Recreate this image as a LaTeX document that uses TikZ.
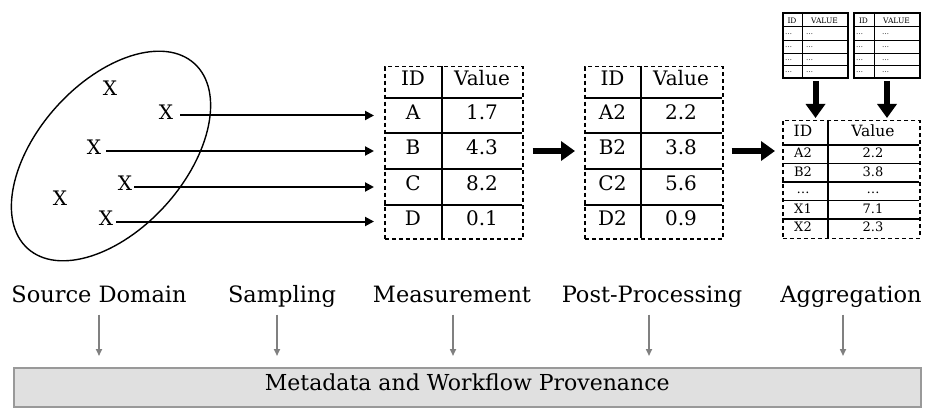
\documentclass[tikz,border=0pt]{standalone}
\usepackage{fontspec}
\setmainfont{DejaVu Serif}
\usetikzlibrary{arrows.meta,shapes.geometric}
\begin{document}
\begin{tikzpicture}[x=1pt,y=-1pt,
  cell/.style={inner sep=0pt,text height=0.73em,text depth=0pt,font=\fontsize{20}{24}\selectfont},
  cellsm/.style={cell,font=\fontsize{15.5}{18}\selectfont},
  cellxs/.style={cell,font=\fontsize{13}{15}\selectfont},
  cellmini/.style={cell,font=\fontsize{7.5}{9}\selectfont},
  dotmini/.style={inner sep=0pt,anchor=west,font=\fontsize{7}{8}\selectfont},
  tbl/.style={draw,dash pattern=on 4pt off 3pt,line width=1.5pt,inner sep=0pt,anchor=north west},
  minitbl/.style={draw,line width=2pt,inner sep=0pt,anchor=north west},
  gridline/.style={line width=1.5pt},
  minigrid/.style={line width=1pt},
  xmark/.style={inner sep=1pt,text height=0.73em,text depth=0pt,font=\fontsize{20}{24}\selectfont},
  thinarrow/.style={line width=2pt,-{Triangle[length=9pt,width=9pt]}},
  thickarrow/.style={line width=6pt,-{Triangle[length=14pt,width=19pt]}},
  grayarrow/.style={draw=black!50,line width=1.6pt,-{Triangle[length=7pt,width=6pt]}},
  stage/.style={inner sep=0pt,anchor=base,text depth=0.24em,font=\fontsize{22.5}{26}\selectfont},
]
\useasboundingbox (0,0) rectangle (934,409);

% ---- Source domain ----
\node[ellipse,draw,line width=1.4pt,minimum width=249pt,minimum height=147pt,rotate=48] (dom) at (111,156) {};
\node[xmark] (x1) at (110,92) {X};
\node[xmark] (x2) at (166,115.5) {X};
\node[xmark] (x3) at (94,151) {X};
\node[xmark] (x4) at (125,187) {X};
\node[xmark] (x5) at (60,202) {X};
\node[xmark] (x6) at (106,221.5) {X};

% ---- Table 1 ----
\node[tbl,minimum width=138pt,minimum height=172pt] (t1) at (384,66) {};
\foreach \yy in {98,133,169,205} \draw[gridline] (384,\yy) -- (522,\yy);
\draw[gridline] (442,66) -- (442,238);
\node[cell] (t1h1) at (413,82) {ID};
\node[cell] (t1h2) at (482,82) {Value};
\node[cell] (t1a) at (413,115.5) {A};
\node[cell] (t1av) at (482,115.5) {1.7};
\node[cell] (t1b) at (413,151) {B};
\node[cell] (t1bv) at (482,151) {4.3};
\node[cell] (t1c) at (413,187) {C};
\node[cell] (t1cv) at (482,187) {8.2};
\node[cell] (t1d) at (413,221.5) {D};
\node[cell] (t1dv) at (482,221.5) {0.1};

% sampling arrows
\draw[thinarrow,shorten <=6pt,shorten >=10pt] (x2.east) -- (x2.east -| t1.west);
\draw[thinarrow,shorten <=4pt,shorten >=10pt] (x3.east) -- (x3.east -| t1.west);
\draw[thinarrow,shorten <=1pt,shorten >=10pt] (x4.east) -- (x4.east -| t1.west);
\draw[thinarrow,shorten <=2pt,shorten >=10pt] (x6.east) -- (x6.east -| t1.west);

% ---- Table 2 ----
\node[tbl,minimum width=138pt,minimum height=172pt] (t2) at (584,66) {};
\foreach \yy in {98,133,169,205} \draw[gridline] (584,\yy) -- (722,\yy);
\draw[gridline] (641,66) -- (641,238);
\node[cell] (t2h1) at (612.5,82) {ID};
\node[cell] (t2h2) at (681,82) {Value};
\node[cell] (t2a) at (612.5,115.5) {A2};
\node[cell] (t2av) at (681,115.5) {2.2};
\node[cell] (t2b) at (612.5,151) {B2};
\node[cell] (t2bv) at (681,151) {3.8};
\node[cell] (t2c) at (612.5,187) {C2};
\node[cell] (t2cv) at (681,187) {5.6};
\node[cell] (t2d) at (612.5,221.5) {D2};
\node[cell] (t2dv) at (681,221.5) {0.9};

\draw[thickarrow,shorten <=9pt,shorten >=9pt] (t1.east |- t1b) -- (t2.west |- t1b);

% ---- Table 3 (aggregated) ----
\node[tbl,minimum width=137pt,minimum height=117.5pt] (t3) at (782,120) {};
\foreach \yy in {145,163.5,182,200.5,219} \draw[gridline] (782,\yy) -- (919,\yy);
\draw[gridline] (828,120) -- (828,237.5);
\node[cellsm] (t3h1) at (803,132.5) {ID};
\node[cellsm] (t3h2) at (873,132.5) {Value};
\node[cellxs] (t3a) at (803,154.25) {A2};
\node[cellxs] (t3av) at (873,154.25) {2.2};
\node[cellxs] (t3b) at (803,172.75) {B2};
\node[cellxs] (t3bv) at (873,172.75) {3.8};
\node[cellxs,text height=0.45em] (t3c) at (803,191.25) {\dots};
\node[cellxs,text height=0.45em] (t3cv) at (873,191.25) {\dots};
\node[cellxs] (t3x) at (803,209.75) {X1};
\node[cellxs] (t3xv) at (873,209.75) {7.1};
\node[cellxs] (t3y) at (803,228.25) {X2};
\node[cellxs] (t3yv) at (873,228.25) {2.3};

\draw[thickarrow,shorten <=8pt,shorten >=7pt] (t2.east |- t2b) -- (t3.west |- t2b);

% ---- mini tables ----
\node[minitbl,minimum width=65pt,minimum height=65pt] (ma) at (782,12) {};
\foreach \yy in {27,41,54,66} \draw[minigrid] (782,\yy) -- (847,\yy);
\draw[minigrid] (802,12) -- (802,77);
\node[cellmini] (mah1) at (792,19.5) {ID};
\node[cellmini] (mah2) at (824.5,19.5) {VALUE};
\foreach \yy/\k in {34/1,47.5/2,60/3,72/4} {
  \node[dotmini] (ma\k l) at (785,\yy) {\dots};
  \node[dotmini] (ma\k r) at (806,\yy) {\dots};
}

\node[minitbl,minimum width=66pt,minimum height=65pt] (mb) at (853,12) {};
\foreach \yy in {27,41,54,66} \draw[minigrid] (853,\yy) -- (919,\yy);
\draw[minigrid] (874,12) -- (874,77);
\node[cellmini] (mbh1) at (863.5,19.5) {ID};
\node[cellmini] (mbh2) at (896.5,19.5) {VALUE};
\foreach \yy/\k in {34/1,47.5/2,60/3,72/4} {
  \node[dotmini] (mb\k l) at (856,\yy) {\dots};
  \node[dotmini] (mb\k r) at (882,\yy) {\dots};
}

\draw[thickarrow,shorten <=2pt,shorten >=2pt] (ma.south) -- (ma.south |- t3.north);
\draw[thickarrow,shorten <=2pt,shorten >=2pt] (mb.south) -- (mb.south |- t3.north);

% ---- stage labels ----
\node[stage] (s1) at (99,302) {Source Domain};
\node[stage] (s2) at (282,302) {Sampling};
\node[stage] (s3) at (452,302) {Measurement};
\node[stage] (s4) at (652,302) {Post-Processing};
\node[stage] (s5) at (851,302) {Aggregation};

% ---- provenance box ----
\node[draw=black!40,fill=black!12,line width=1.5pt,inner sep=0pt,anchor=north west,
      minimum width=907pt,minimum height=39pt] (prov) at (13,367) {};
\node[inner sep=0pt,text height=0.73em,text depth=0pt,font=\fontsize{22}{26}\selectfont] (provtxt) at (prov.center) {Metadata and Workflow Provenance};

\foreach \s/\dx in {s1/0,s2/-5,s3/1,s4/-3,s5/-8}
  \draw[grayarrow,shorten <=10pt,shorten >=11pt] ([xshift=\dx pt]\s.south) -- ([xshift=\dx pt]\s.south |- prov.north);
\end{tikzpicture}
\end{document}
